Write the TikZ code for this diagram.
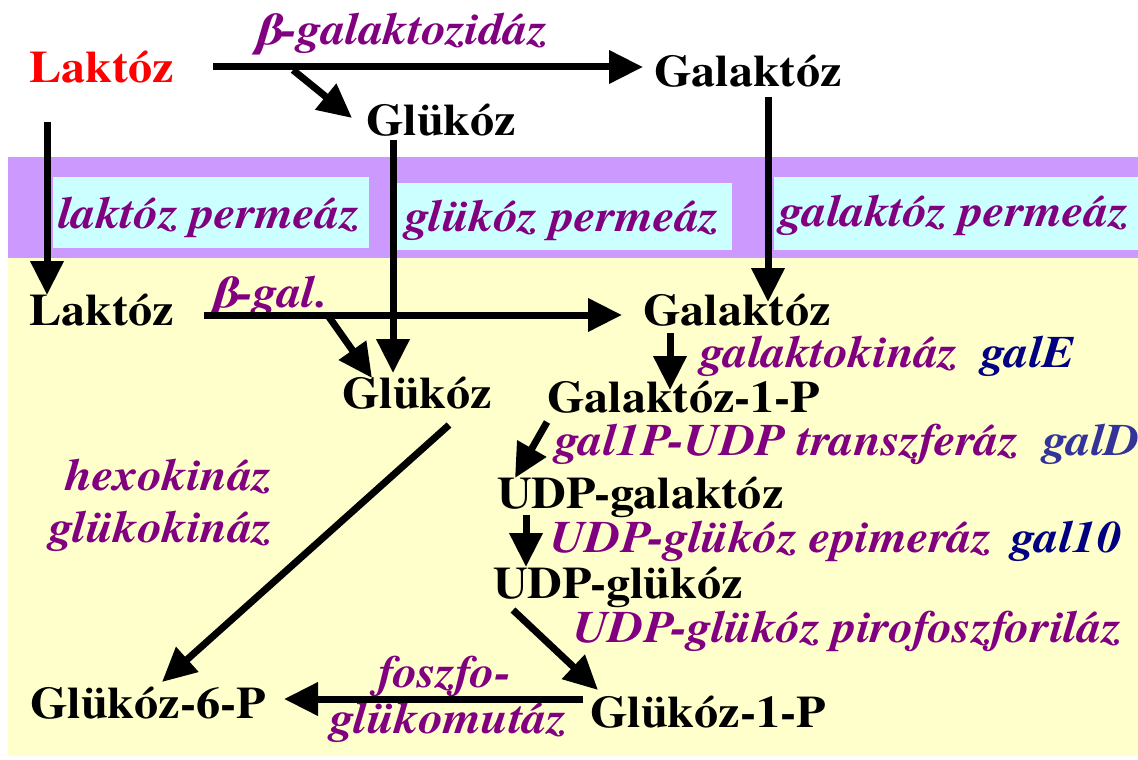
\documentclass[tikz,border=0pt]{standalone}
\usepackage{fontspec}
\setmainfont{TeX Gyre Termes}[BoldFeatures={FakeStretch=1.07}, BoldItalicFeatures={FakeStretch=1.09}]
\usetikzlibrary{arrows.meta}
\definecolor{enz}{HTML}{800080}
\definecolor{genec}{HTML}{000080}
\definecolor{genelt}{HTML}{333399}
\definecolor{membr}{HTML}{CC99FF}
\definecolor{porec}{HTML}{CCFFFF}
\definecolor{cyto}{HTML}{FFFFCC}
\tikzset{
  mol/.style={anchor=base west, inner sep=0pt, font=\fontsize{45}{50}\selectfont\rmfamily\bfseries},
  enzl/.style={anchor=base west, inner sep=0pt, text=enz, font=\fontsize{45}{50}\selectfont\rmfamily\bfseries\itshape},
  gene/.style={enzl, text=genec},
  rxn/.style={line width=7pt, -{Triangle[length=34pt,width=32pt]}},
}
\begin{document}
\begin{tikzpicture}[x=1pt,y=-1pt]
\useasboundingbox (0,0) rectangle (1138,760);
% compartments: membrane band with permease channels, cytoplasm below
\fill[membr] (8,157) rectangle (1138,258);
\fill[cyto] (8,258) rectangle (1138,756);
\fill[porec] (53,177) rectangle (369,248);
\fill[porec] (396,183) rectangle (732,250);
\fill[porec] (774,177) rectangle (1138,250);

% outside the cell
\node[mol, text=red] (lak1) at (29,82) {Laktóz};
\node[enzl] (bgal1) at (255,45) {β-galaktozidáz};
\node[mol] (gal1) at (654,87) {Galaktóz};
\node[mol] (glc1) at (366,135) {Glükóz};

% permeases
\node[enzl] (lakp) at (58,228) {laktóz permeáz};
\node[enzl] (glcp) at (405,231) {glükóz permeáz};
\node[enzl] (galp) at (779,226) {galaktóz permeáz};

% inside the cell
\node[mol] (lak2) at (29,325) {Laktóz};
\node[enzl] (bgal2) at (211,307) {β-gal.};
\node[mol] (gal2) at (643,325) {Galaktóz};
\node[mol] (glc2) at (342,408) {Glükóz};
\node[enzl] (galk) at (700,367) {galaktokináz};
\node[gene] (galE) at (981,367) {galE};
\node[mol] (gal1p) at (547,412) {Galaktóz-1-P};
\node[enzl] (galt) at (555,455) {gal1P-UDP transzferáz};
\node[gene, text=genelt] (galD) at (1043,455) {galD};
\node[mol] (udpgal) at (497,508) {UDP-galaktóz};
\node[enzl] (epi) at (550,552) {UDP-glükóz epimeráz};
\node[gene] (gal10) at (1011,552) {gal10};
\node[mol] (udpglc) at (493,598) {UDP-glükóz};
\node[enzl] (ppl) at (573,642) {UDP-glükóz pirofoszforiláz};
\node[mol] (glc1p) at (590,727) {Glükóz-1-P};
\node[mol] (glc6p) at (30,718) {Glükóz-6-P};
\node[enzl] (pgm1) at (378,687) {foszfo-};
\node[enzl] (pgm2) at (330,733) {glükomutáz};
\node[enzl, anchor=base east] (hk) at (272,490) {hexokináz};
\node[enzl, anchor=base east] (gk) at (272,542) {glükokináz};

% connector end points
\coordinate (lak1-out) at (213,67);
\coordinate (gal1-in) at (643,67);
\coordinate (split1) at (293,70);
\coordinate (glc1-in) at (352,118);
\coordinate (lak1-down) at (47,122);
\coordinate (lak2-in) at (47,295);
\coordinate (glc1-down) at (393,140);
\coordinate (glc2-top) at (393,373);
\coordinate (gal1-down) at (768,97);
\coordinate (gal2-top) at (768,302);
\coordinate (lak2-out) at (204,315);
\coordinate (gal2-in) at (622,315);
\coordinate (split2) at (329,317);
\coordinate (glc2-in) at (372,378);
\coordinate (gal2-down) at (670,333);
\coordinate (gal1p-in) at (670,390);
\coordinate (gal1p-out) at (547,422);
\coordinate (udpgal-in) at (515,478);
\coordinate (udpgal-out) at (526,515);
\coordinate (udpglc-in) at (526,567);
\coordinate (udpglc-out) at (513,610);
\coordinate (glc1p-in) at (598,690);
\coordinate (glc1p-out) at (583,699);
\coordinate (glc6p-in) at (284,699);
\coordinate (glc2-out) at (449,425);
\coordinate (glc6p-top) at (162,682);

% reactions and transport
\draw[rxn] (lak1-out) -- (gal1-in);
\draw[rxn] (split1) -- (glc1-in);
\draw[rxn] (lak1-down) -- (lak2-in);
\draw[rxn] (glc1-down) -- (glc2-top);
\draw[rxn] (gal1-down) -- (gal2-top);
\draw[rxn] (lak2-out) -- (gal2-in);
\draw[rxn] (split2) -- (glc2-in);
\draw[rxn] (gal2-down) -- (gal1p-in);
\draw[rxn] (gal1p-out) -- (udpgal-in);
\draw[rxn] (udpgal-out) -- (udpglc-in);
\draw[rxn] (udpglc-out) -- (glc1p-in);
\draw[rxn] (glc1p-out) -- (glc6p-in);
\draw[rxn] (glc2-out) -- (glc6p-top);
\end{tikzpicture}
\end{document}
